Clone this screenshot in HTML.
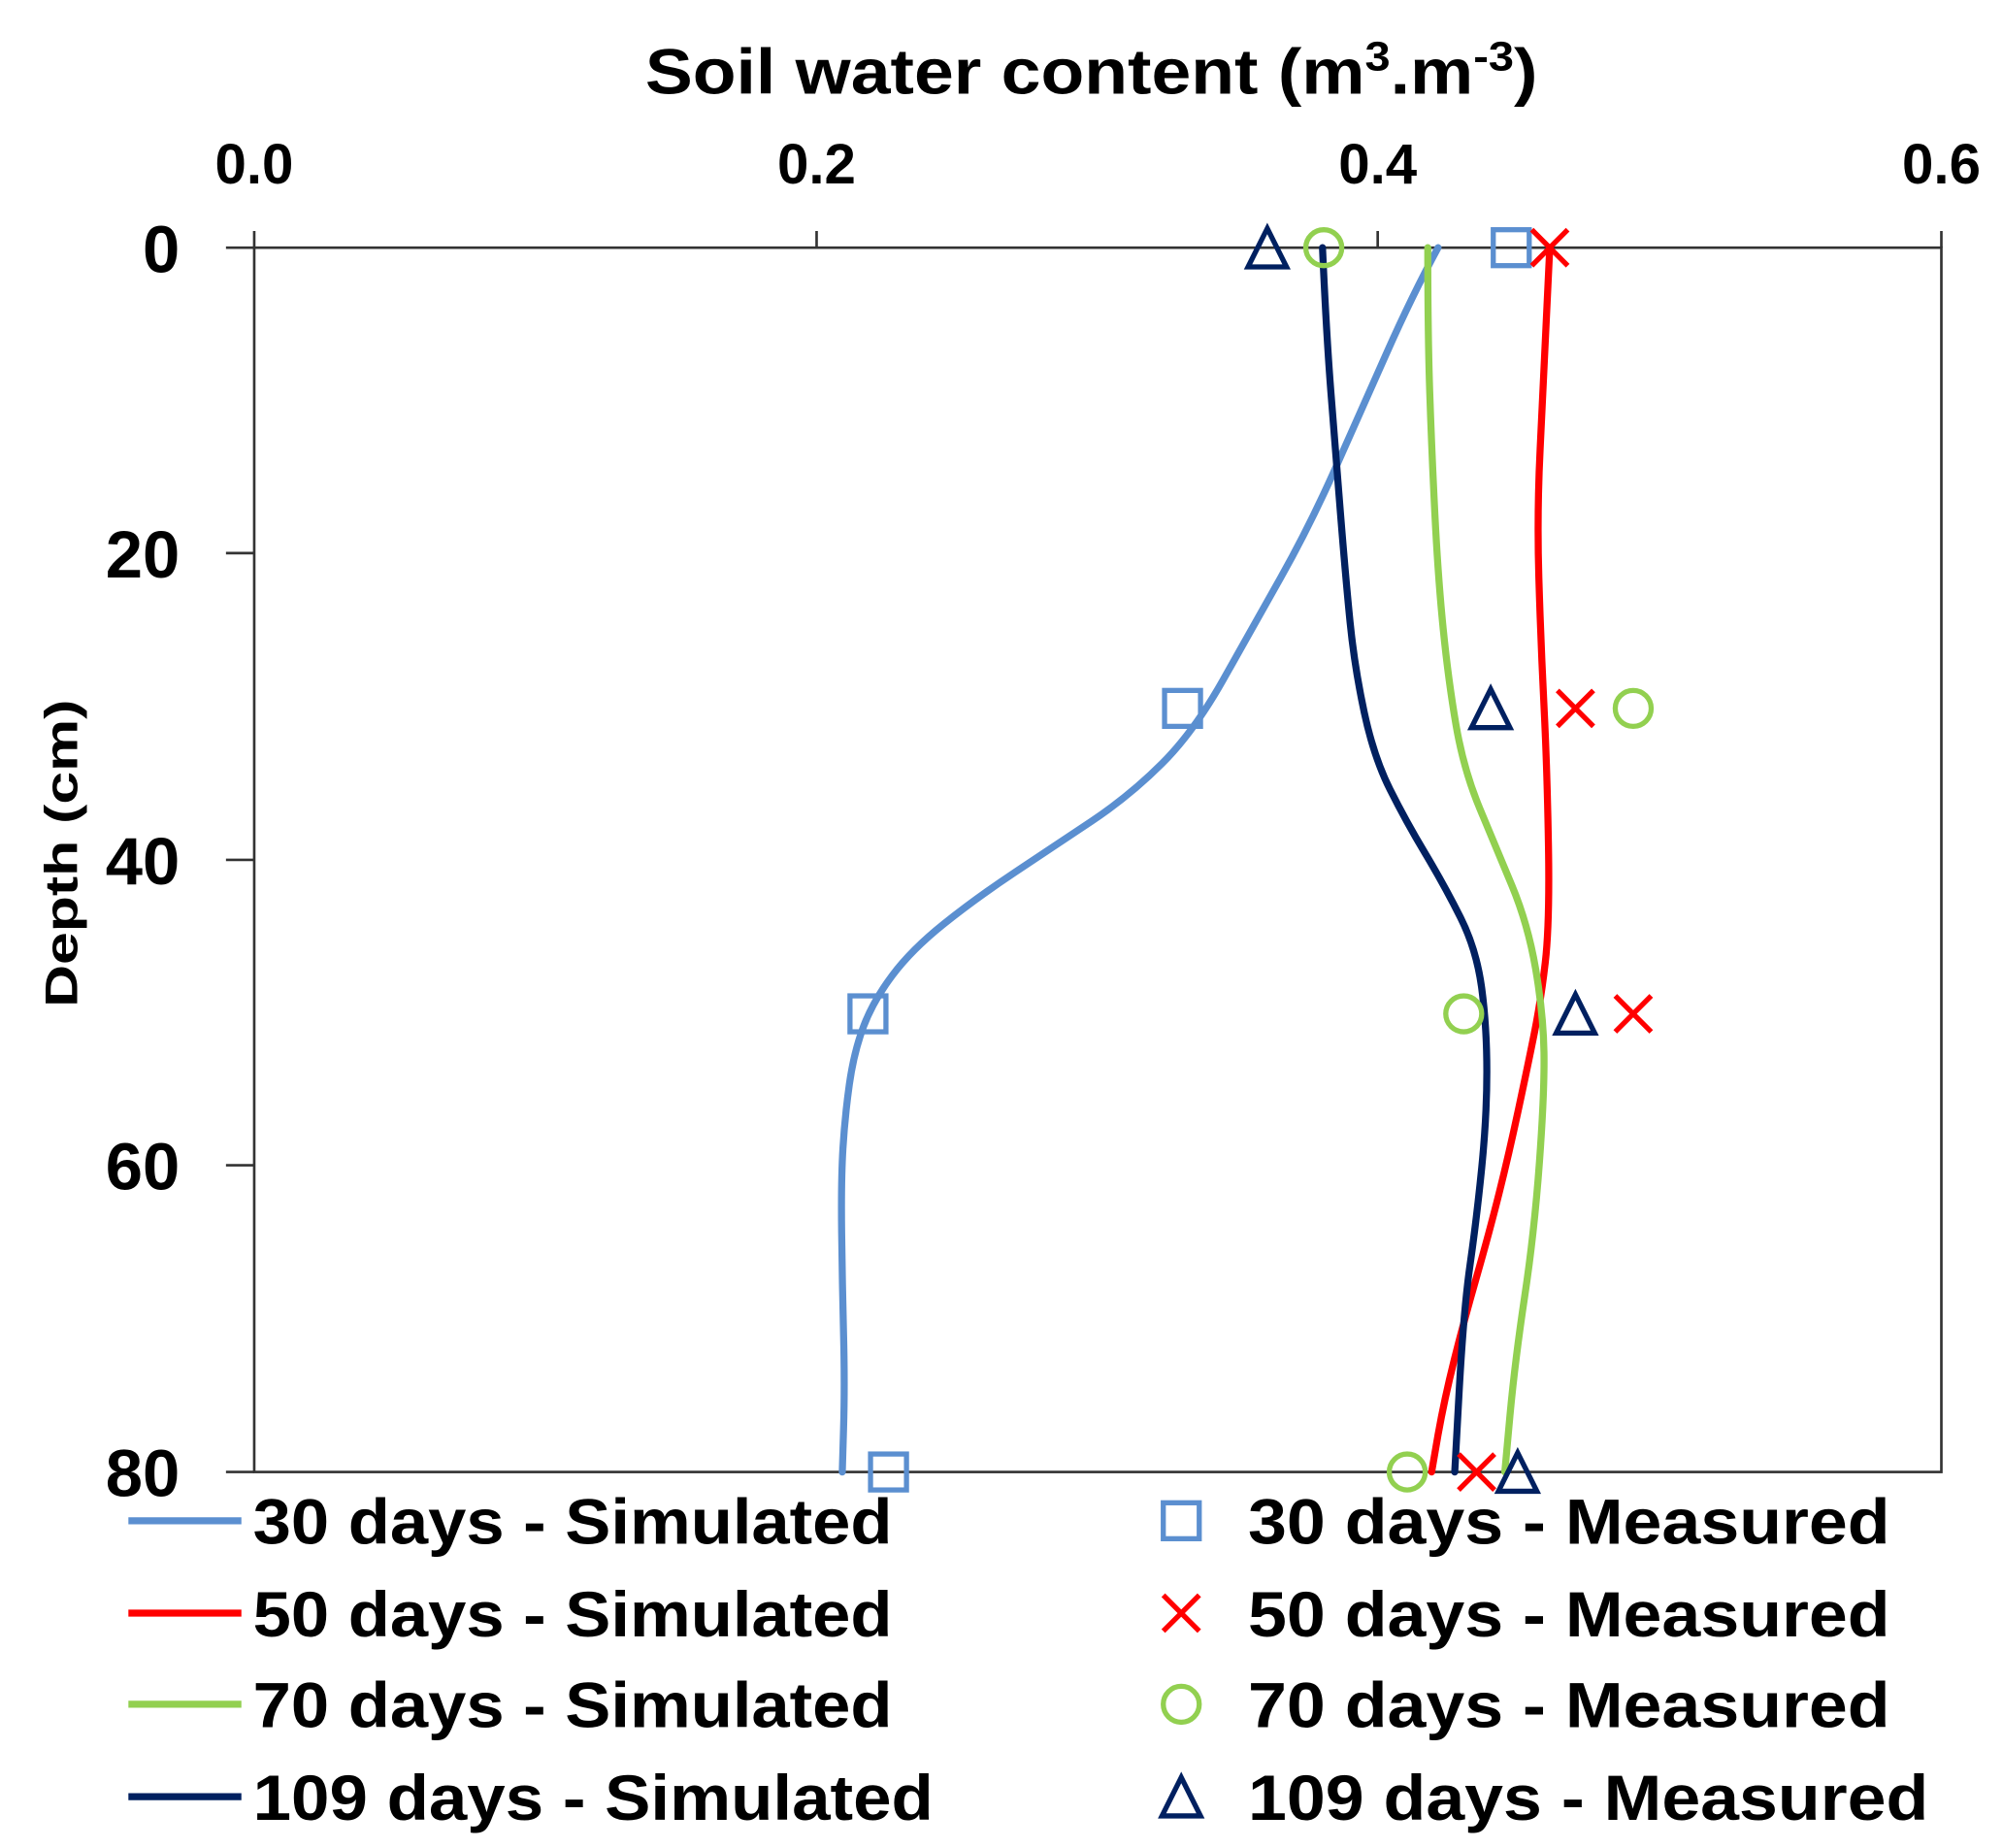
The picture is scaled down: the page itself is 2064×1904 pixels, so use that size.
<!DOCTYPE html>
<html><head><meta charset="utf-8"><style>html,body{margin:0;padding:0;background:#fff}svg{display:block}</style></head>
<body>
<svg width="2064" height="1904" viewBox="0 0 1560 1440" preserveAspectRatio="none" xmlns="http://www.w3.org/2000/svg" font-family="'Liberation Sans', sans-serif" font-weight="bold">
<rect width="1560" height="1440" fill="#fff"/>
<text x="850" y="73" font-size="50" text-anchor="middle" textLength="695" lengthAdjust="spacingAndGlyphs">Soil water content (m<tspan font-size="32" dy="-18">3</tspan><tspan dy="18">.m</tspan><tspan font-size="32" dy="-18">-3</tspan><tspan dy="18">)</tspan></text>
<g font-size="44" text-anchor="middle">
<text x="198" y="143">0.0</text><text x="636" y="143">0.2</text><text x="1073" y="143">0.4</text><text x="1512" y="143">0.6</text>
</g>
<g font-size="52" text-anchor="end">
<text x="140" y="212">0</text><text x="140" y="450">20</text><text x="140" y="689">40</text><text x="140" y="927">60</text><text x="140" y="1166">80</text>
</g>
<text transform="translate(60,665) rotate(-90)" font-size="36" text-anchor="middle" textLength="240" lengthAdjust="spacingAndGlyphs">Depth (cm)</text>
<g stroke="#333" stroke-width="2" fill="none">
<rect x="198" y="193" width="1314" height="954"/>
<line x1="176" y1="193" x2="198" y2="193"/><line x1="176" y1="431" x2="198" y2="431"/><line x1="176" y1="670" x2="198" y2="670"/><line x1="176" y1="908" x2="198" y2="908"/><line x1="176" y1="1147" x2="198" y2="1147"/>
<line x1="198" y1="180" x2="198" y2="193"/><line x1="636" y1="180" x2="636" y2="193"/><line x1="1073" y1="180" x2="1073" y2="193"/><line x1="1512" y1="180" x2="1512" y2="193"/>
</g>
<g fill="none" stroke-width="5.5" stroke-linejoin="round" stroke-linecap="round">
<path stroke="#5B8FD0" d="M1120,193 Q1100,230 1080,275 Q1060,320 1040,365 Q1020,410 997.5,450 Q975,490 952.5,530 Q930,570 905,595 Q880,620 850,640 Q820,660 790,680 Q760,700 735,720 Q710,740 695,760 Q680,780 672.5,800 Q665,820 661.5,845 Q658,870 656.5,895 Q655,920 655.5,960 Q656,1000 657,1040 Q658,1080 657,1113 L656,1147"/>
<path stroke="#FF0000" d="M1207,193 Q1202,300 1199.5,350 Q1197,400 1198.5,450 Q1200,500 1202.5,550 Q1205,600 1206,660 Q1207,720 1203.5,750 Q1200,780 1195,805 Q1190,830 1182.5,865 Q1175,900 1167.5,930 Q1160,960 1150,995 Q1140,1030 1132.5,1060 Q1125,1090 1120,1118 L1115,1147"/>
<path stroke="#92D050" d="M1112,193 Q1112,260 1113.5,305 Q1115,350 1117.5,400 Q1120,450 1124,490 Q1128,530 1134,565 Q1140,600 1152.5,630 Q1165,660 1177.5,690 Q1190,720 1196,755 Q1202,790 1202.5,820 Q1203,850 1199,905 Q1195,960 1187.5,1010 Q1180,1060 1176,1103 L1172,1147"/>
<path stroke="#002060" d="M1030,193 Q1033,260 1036.5,305 Q1040,350 1044,400 Q1048,450 1051.5,485 Q1055,520 1062.5,555 Q1070,590 1082.5,615 Q1095,640 1110,665 Q1125,690 1137.5,715 Q1150,740 1154,770 Q1158,800 1158,835 Q1158,870 1154,910 Q1150,950 1145,985 Q1140,1020 1136.5,1083 L1133,1147"/>
</g>
<g fill="none" stroke-width="4">
<g stroke="#5B8FD0"><rect x="1163" y="179" width="28" height="28"/><rect x="907" y="538" width="28" height="28"/><rect x="662" y="776" width="28" height="28"/><rect x="678" y="1133" width="28" height="28"/></g>
<g stroke="#FF0000"><path d="M1193,179l28,28M1221,179l-28,28M1213,538l28,28M1241,538l-28,28M1258,776l28,28M1286,776l-28,28M1136,1133l28,28M1164,1133l-28,28"/></g>
<g stroke="#92D050"><circle cx="1031" cy="193" r="14"/><circle cx="1272" cy="552" r="14"/><circle cx="1140" cy="790" r="14"/><circle cx="1096" cy="1147" r="14"/></g>
<g stroke="#002060"><path d="M987,178l15,30h-30z M1161,537l15,30h-30z M1227,775l15,30h-30z M1182,1132l15,30h-30z"/></g>
</g>
<g stroke-width="5.5">
<line x1="100" y1="1185" x2="188" y2="1185" stroke="#5B8FD0"/>
<line x1="100" y1="1257" x2="188" y2="1257" stroke="#FF0000"/>
<line x1="100" y1="1328" x2="188" y2="1328" stroke="#92D050"/>
<line x1="100" y1="1400" x2="188" y2="1400" stroke="#002060"/>
</g>
<g fill="none" stroke-width="4">
<rect x="906" y="1171" width="28" height="28" stroke="#5B8FD0"/>
<path d="M906,1243l28,28M934,1243l-28,28" stroke="#FF0000"/>
<circle cx="920" cy="1328" r="14" stroke="#92D050"/>
<path d="M920,1385l15,30h-30z" stroke="#002060"/>
</g>
<g font-size="50">
<text x="197" y="1203" textLength="498" lengthAdjust="spacingAndGlyphs">30 days - Simulated</text>
<text x="197" y="1275" textLength="498" lengthAdjust="spacingAndGlyphs">50 days - Simulated</text>
<text x="197" y="1346" textLength="498" lengthAdjust="spacingAndGlyphs">70 days - Simulated</text>
<text x="197" y="1418" textLength="530" lengthAdjust="spacingAndGlyphs">109 days - Simulated</text>
<text x="972" y="1203" textLength="500" lengthAdjust="spacingAndGlyphs">30 days - Measured</text>
<text x="972" y="1275" textLength="500" lengthAdjust="spacingAndGlyphs">50 days - Measured</text>
<text x="972" y="1346" textLength="500" lengthAdjust="spacingAndGlyphs">70 days - Measured</text>
<text x="972" y="1418" textLength="530" lengthAdjust="spacingAndGlyphs">109 days - Measured</text>
</g>
</svg>
</body></html>
